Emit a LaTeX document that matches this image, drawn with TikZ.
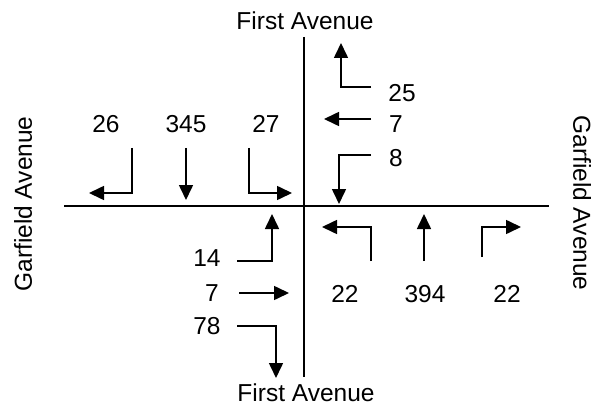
\documentclass[tikz,border=0pt]{standalone}
\usepackage{fontspec}
\setmainfont{Liberation Sans}
\usetikzlibrary{arrows.meta}
\begin{document}
\begin{tikzpicture}[x=1pt,y=-1pt,
  lbl/.style={inner sep=0pt,font=\fontsize{24.5}{29}\selectfont},
  road/.style={line width=1.6pt},
  mv/.style={line width=1.6pt,-{Triangle[length=15pt,width=14pt]}}]
\useasboundingbox (0,0) rectangle (597,409);
% roads
\coordinate (vt) at (304,37);
\coordinate (vb) at (304,377);
\coordinate (hl) at (64,206);
\coordinate (hr) at (549,206);
\draw[road] (vt) -- (vb);
\draw[road] (hl) -- (hr);
% street names
\node[lbl] (ftop) at (305,21) {First Avenue};
\node[lbl] (fbot) at (306,393) {First Avenue};
\node[lbl,rotate=90] (gl) at (23,204) {Garfield Avenue};
\node[lbl,rotate=-90] (gr) at (582,203) {Garfield Avenue};
% top-left
\node[lbl] (n26) at (106,124) {26};
\node[lbl] (n345) at (186,124) {345};
\node[lbl] (n27) at (266,124) {27};
\coordinate (a1) at (132,148); \coordinate (a1b) at (132,193); \coordinate (a1t) at (89,193);
\draw[mv] (a1) -- (a1b) -- (a1t);
\coordinate (a2) at (186,148); \coordinate (a2t) at (186,200);
\draw[mv] (a2) -- (a2t);
\coordinate (a3) at (249,148); \coordinate (a3b) at (249,193); \coordinate (a3t) at (292,193);
\draw[mv] (a3) -- (a3b) -- (a3t);
% top-right
\node[lbl] (n25) at (402,93) {25};
\node[lbl] (n7a) at (396,124) {7};
\node[lbl] (n8) at (396,158) {8};
\coordinate (b1) at (371,87); \coordinate (b1b) at (341,87); \coordinate (b1t) at (341,43);
\draw[mv] (b1) -- (b1b) -- (b1t);
\coordinate (b2) at (371,119); \coordinate (b2t) at (324,119);
\draw[mv] (b2) -- (b2t);
\coordinate (b3) at (371,155); \coordinate (b3b) at (339,155); \coordinate (b3t) at (339,204);
\draw[mv] (b3) -- (b3b) -- (b3t);
% bottom-left
\node[lbl] (n14) at (207,258) {14};
\node[lbl] (n7b) at (212,293) {7};
\node[lbl] (n78) at (207,326) {78};
\coordinate (c1) at (237,261); \coordinate (c1b) at (272,261); \coordinate (c1t) at (272,214);
\draw[mv] (c1) -- (c1b) -- (c1t);
\coordinate (c2) at (239,293); \coordinate (c2t) at (289,293);
\draw[mv] (c2) -- (c2t);
\coordinate (c3) at (237,326); \coordinate (c3b) at (276,326); \coordinate (c3t) at (276,378);
\draw[mv] (c3) -- (c3b) -- (c3t);
% bottom-right
\node[lbl] (n22a) at (345,294) {22};
\node[lbl] (n394) at (425,294) {394};
\node[lbl] (n22b) at (507,294) {22};
\coordinate (d1) at (371,261); \coordinate (d1b) at (371,227); \coordinate (d1t) at (322,227);
\draw[mv] (d1) -- (d1b) -- (d1t);
\coordinate (d2) at (424,261); \coordinate (d2t) at (424,214);
\draw[mv] (d2) -- (d2t);
\coordinate (d3) at (482,257); \coordinate (d3b) at (482,227); \coordinate (d3t) at (521,227);
\draw[mv] (d3) -- (d3b) -- (d3t);
\end{tikzpicture}
\end{document}
